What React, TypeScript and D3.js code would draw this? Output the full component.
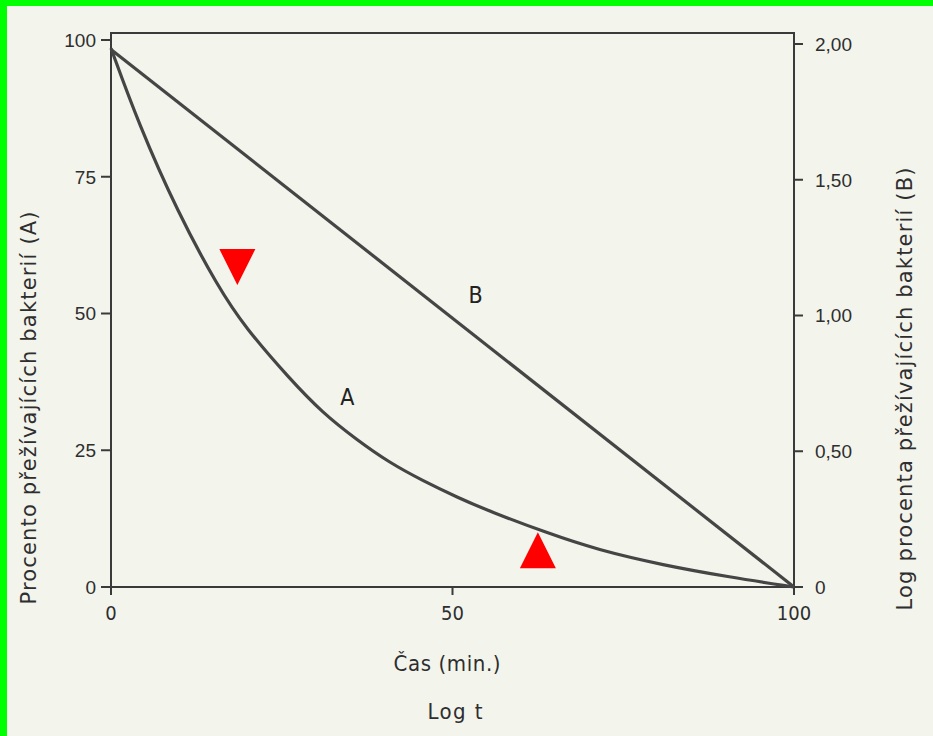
import React, { useEffect, useRef } from "react";
import * as d3 from "d3";

// Cas (min.) 0-100, krivka A = procento prezivajicich bakterii
const curveATime = [0, 4, 9.8, 15.7, 19.6, 26.2, 31, 36, 40.8, 45.7, 50.7, 55.5, 63.8, 71.2, 80.8, 90.6, 100];
const curveAPercent = [98.5, 84.8, 68.4, 54.8, 47.5, 38.0, 31.8, 26.9, 22.7, 19.4, 16.4, 13.8, 9.9, 6.8, 4.0, 1.8, 0];

// krivka B = log procenta (primka)
const curveBTime = [0, 100];
const curveBLog = [1.98, 0];

const leftTicks = [0, 25, 50, 75, 100];
const rightTicks = [0, 0.5, 1, 1.5, 2];
const rightTickLabels = ["0", "0,50", "1,00", "1,50", "2,00"];
const bottomTicks = [0, 50, 100];

// cervene znacky: [cas, procento, smer]
const markerTime = [18.5, 62.5];
const markerPercent = [55.2, 10];
const markerDir = ["down", "up"];

const App = () => {
  const svgRef = useRef<SVGSVGElement | null>(null);

  useEffect(() => {
    if (svgRef.current) {
      drawChart();
    }
  }, []);

  const drawChart = () => {
    const svg = d3.select(svgRef.current);
    svg.selectAll("*").remove();

    const width = 933;
    const height = 736;
    const left = 111;
    const right = 794;
    const top = 33;
    const bottom = 587;
    const ink = "#3a3a3a";
    const textInk = "#2e2e2e";
    const narrow = "'DejaVu Sans Condensed', 'Liberation Sans Narrow', 'DejaVu Sans', sans-serif";
    const plain = "'DejaVu Sans', 'Noto Sans', sans-serif";
    const arial = "'Liberation Sans', Arial, sans-serif";

    svg.append("rect").attr("width", width).attr("height", height).attr("fill", "#f3f4ec");

    // zelený rámeček
    svg.append("rect").attr("x", 0).attr("y", 0).attr("width", width).attr("height", 6).attr("fill", "#00ff00");
    svg.append("rect").attr("x", 0).attr("y", 0).attr("width", 7).attr("height", height).attr("fill", "#00ff00");

    const x = d3.scaleLinear().domain([0, 100]).range([left, right]);
    const yA = d3.scaleLinear().domain([0, 100]).range([bottom, 40]);
    const yB = d3.scaleLinear().domain([0, 2]).range([bottom, 44]);

    // rám grafu
    svg
      .append("path")
      .attr("d", `M${left},${bottom} L${left},${top} L${right},${top} L${right},${bottom} L${left},${bottom}`)
      .attr("fill", "none")
      .attr("stroke", ink)
      .attr("stroke-width", 2);

    // levá osa
    const gLeft = svg.append("g");
    leftTicks.forEach((t) => {
      gLeft
        .append("line")
        .attr("x1", left - 10)
        .attr("x2", left)
        .attr("y1", yA(t))
        .attr("y2", yA(t))
        .attr("stroke", ink)
        .attr("stroke-width", 2);
      gLeft
        .append("text")
        .attr("x", left - 15)
        .attr("y", yA(t))
        .attr("dy", "0.36em")
        .attr("text-anchor", "end")
        .attr("font-family", arial)
        .attr("font-size", 19)
        .attr("fill", textInk)
        .text(t);
    });

    // pravá osa
    const gRight = svg.append("g");
    rightTicks.forEach((t, i) => {
      gRight
        .append("line")
        .attr("x1", right)
        .attr("x2", right + 9)
        .attr("y1", yB(t))
        .attr("y2", yB(t))
        .attr("stroke", ink)
        .attr("stroke-width", 2);
      gRight
        .append("text")
        .attr("x", right + 21)
        .attr("y", yB(t))
        .attr("dy", "0.36em")
        .attr("font-family", arial)
        .attr("font-size", 19)
        .attr("fill", textInk)
        .text(rightTickLabels[i]);
    });

    // dolní osa
    const gBottom = svg.append("g");
    bottomTicks.forEach((t) => {
      gBottom
        .append("line")
        .attr("x1", x(t))
        .attr("x2", x(t))
        .attr("y1", bottom)
        .attr("y2", bottom + 8)
        .attr("stroke", ink)
        .attr("stroke-width", 2);
      gBottom
        .append("text")
        .attr("x", x(t))
        .attr("y", bottom + 33)
        .attr("text-anchor", "middle")
        .attr("font-family", narrow)
        .attr("font-size", 20)
        .attr("fill", textInk)
        .text(t);
    });
    gBottom
      .append("line")
      .attr("x1", left - 8)
      .attr("x2", left)
      .attr("y1", bottom)
      .attr("y2", bottom)
      .attr("stroke", ink)
      .attr("stroke-width", 2);
    gBottom
      .append("line")
      .attr("x1", right)
      .attr("x2", right + 9)
      .attr("y1", bottom)
      .attr("y2", bottom)
      .attr("stroke", ink)
      .attr("stroke-width", 2);

    // popisky os
    svg
      .append("text")
      .attr("transform", `translate(36, 408) rotate(-90)`)
      .attr("text-anchor", "middle")
      .attr("font-family", plain)
      .attr("font-size", 21)
      .attr("textLength", 393)
      .attr("lengthAdjust", "spacing")
      .attr("fill", textInk)
      .text("Procento přežívajících bakterií (A)");

    svg
      .append("text")
      .attr("transform", `translate(912, 389) rotate(-90)`)
      .attr("text-anchor", "middle")
      .attr("font-family", plain)
      .attr("font-size", 21)
      .attr("textLength", 443)
      .attr("lengthAdjust", "spacing")
      .attr("fill", textInk)
      .text("Log procenta přežívajících bakterií (B)");

    svg
      .append("text")
      .attr("x", 447)
      .attr("y", 671)
      .attr("text-anchor", "middle")
      .attr("font-family", narrow)
      .attr("font-size", 22)
      .attr("textLength", 107)
      .attr("lengthAdjust", "spacing")
      .attr("fill", textInk)
      .text("Čas (min.)");

    svg
      .append("text")
      .attr("x", 455)
      .attr("y", 719)
      .attr("text-anchor", "middle")
      .attr("font-family", narrow)
      .attr("font-size", 22)
      .attr("textLength", 55)
      .attr("lengthAdjust", "spacing")
      .attr("fill", textInk)
      .text("Log t");

    // křivka A
    const dataA = curveATime.map((t, i) => [t, curveAPercent[i]] as [number, number]);
    const lineA = d3
      .line<[number, number]>()
      .x((d) => x(d[0]))
      .y((d) => yA(d[1]))
      .curve(d3.curveBasis);
    svg
      .append("path")
      .datum(dataA)
      .attr("d", lineA)
      .attr("fill", "none")
      .attr("stroke", "#454545")
      .attr("stroke-width", 3.2);

    // křivka B
    const dataB = curveBTime.map((t, i) => [t, curveBLog[i]] as [number, number]);
    const lineB = d3
      .line<[number, number]>()
      .x((d) => x(d[0]))
      .y((d) => yB(d[1]));
    svg
      .append("path")
      .datum(dataB)
      .attr("d", lineB)
      .attr("fill", "none")
      .attr("stroke", "#454545")
      .attr("stroke-width", 3.2);

    svg
      .append("text")
      .attr("x", x(34.6))
      .attr("y", yA(33.3))
      .attr("text-anchor", "middle")
      .attr("font-family", narrow)
      .attr("font-size", 23)
      .attr("fill", "#222")
      .text("A");
    svg
      .append("text")
      .attr("x", x(53.4))
      .attr("y", yA(51.9))
      .attr("text-anchor", "middle")
      .attr("font-family", narrow)
      .attr("font-size", 23)
      .attr("fill", "#222")
      .text("B");

    // červené trojúhelníky
    const triW = 36;
    const triH = 36;
    markerTime.forEach((t, i) => {
      const px = x(t);
      const py = yA(markerPercent[i]);
      const base = markerDir[i] === "down" ? py - triH : py + triH;
      svg
        .append("path")
        .attr("d", `M${px},${py} L${px - triW / 2},${base} L${px + triW / 2},${base} Z`)
        .attr("fill", "#ff0000");
    });
  };

  return (
    <svg
      ref={svgRef}
      width={933}
      height={736}
      style={{ position: "absolute", left: 0, top: 0, display: "block" }}
    />
  );
};

export default App;
